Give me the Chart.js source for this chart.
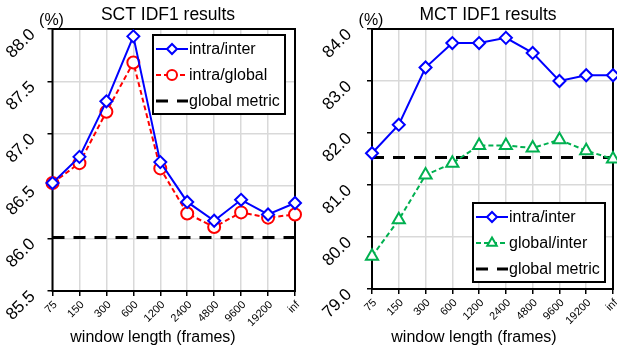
<!DOCTYPE html>
<html>
<head>
<meta charset="utf-8">
<script src="https://cdn.jsdelivr.net/npm/chart.js@4"></script>
<style>
  html, body { margin: 0; padding: 0; background: #fff; }
  #wrap { position: relative; width: 617px; height: 348px; overflow: hidden; }
  .panel { position: absolute; top: 0; height: 348px; }
</style>
</head>
<body>
<div id="wrap">
  <div class="panel" style="left:0;width:308px"><canvas id="sct" width="308" height="348"></canvas></div>
  <div class="panel" style="left:308px;width:309px"><canvas id="mct" width="309" height="348"></canvas></div>
</div>
<script>
// window lengths (x categories)
var windows = ['75', '150', '300', '600', '1200', '2400', '4800', '9600', '19200', 'inf'];

// SCT IDF1 (%)
var sctIntraInter  = [86.53, 86.78, 87.31, 87.93, 86.73, 86.35, 86.17, 86.37, 86.23, 86.34];
var sctIntraGlobal = [86.53, 86.72, 87.21, 87.68, 86.67, 86.24, 86.11, 86.25, 86.20, 86.23];
var sctGlobal      = [86.01, 86.01, 86.01, 86.01, 86.01, 86.01, 86.01, 86.01, 86.01, 86.01];
var sctTicks = [85.5, 86.0, 86.5, 87.0, 87.5, 88.0];

// MCT IDF1 (%)
var mctIntraInter  = [81.61, 82.16, 83.26, 83.73, 83.73, 83.83, 83.54, 83.00, 83.11, 83.11];
var mctGlobalInter = [79.63, 80.33, 81.19, 81.42, 81.76, 81.76, 81.71, 81.87, 81.66, 81.50];
var mctGlobal      = [81.53, 81.53, 81.53, 81.53, 81.53, 81.53, 81.53, 81.53, 81.53, 81.53];
var mctTicks = [79.0, 80.0, 81.0, 82.0, 83.0, 84.0];

var FONT = '"Liberation Sans", Arial, Helvetica, sans-serif';

// titles, rotated tick labels, frame and the boxed legend
var decor = {
  id: 'decor',
  beforeDatasetsDraw: function (chart) {
    var a = chart.chartArea, ctx = chart.ctx;
    ctx.save();
    ctx.strokeStyle = '#000';
    ctx.lineWidth = 2;
    ctx.strokeRect(a.left, a.top, a.right - a.left, a.bottom - a.top);
    ctx.restore();
  },
  afterDraw: function (chart) {
    var o = chart.options.plugins.decor, ctx = chart.ctx, a = chart.chartArea;
    var xs = chart.scales.x, ys = chart.scales.y;
    ctx.save();
    ctx.fillStyle = '#000';

    // title and unit
    ctx.textAlign = 'center';
    ctx.textBaseline = 'middle';
    ctx.font = '17.5px ' + FONT;
    ctx.fillText(o.title, o.titleX, 15);
    ctx.font = '16px ' + FONT;
    ctx.fillText('(%)', a.left - 1, 21);
    ctx.fillText('window length (frames)', o.xTitleX, 338);

    // y tick labels, slanted
    ctx.font = '17px ' + FONT;
    ctx.textAlign = 'right';
    ys.ticks.forEach(function (t) {
      var y = ys.getPixelForValue(t.value);
      ctx.save();
      ctx.translate(a.left + o.yDX, y + 3);
      ctx.rotate(-Math.PI / 4);
      ctx.fillText(t.value.toFixed(1), 0, 0);
      ctx.restore();
    });

    // x tick labels, slanted
    ctx.font = '11px ' + FONT;
    windows.forEach(function (w, i) {
      var x = xs.getPixelForValue(i);
      ctx.save();
      ctx.translate(x + 3, a.bottom + 12);
      ctx.rotate(-Math.PI / 4);
      ctx.fillText(w, 0, 0);
      ctx.restore();
    });

    // legend box
    var L = o.legend;
    ctx.fillStyle = '#fff';
    ctx.fillRect(L.x, L.y, L.w, L.h);
    ctx.strokeStyle = '#000';
    ctx.lineWidth = 2;
    ctx.strokeRect(L.x, L.y, L.w, L.h);
    ctx.font = '16px ' + FONT;
    ctx.textAlign = 'left';
    chart.data.datasets.forEach(function (ds, i) {
      var y = L.y + 14 + i * 26;
      var x1 = L.x + 3, x2 = L.x + 35;
      ctx.save();
      ctx.strokeStyle = ds.borderColor;
      ctx.lineWidth = ds.borderWidth;
      ctx.setLineDash(ds.borderDash || []);
      ctx.beginPath();
      ctx.moveTo(x1, y);
      ctx.lineTo(x2, y);
      ctx.stroke();
      ctx.restore();
      if (ds.pointRadius > 0) {
        ctx.save();
        ctx.fillStyle = '#fff';
        ctx.strokeStyle = ds.borderColor;
        ctx.lineWidth = 2;
        Chart.helpers.drawPoint(ctx, { pointStyle: ds.pointStyle, radius: ds.legendRadius, rotation: 0, borderWidth: 2 }, (x1 + x2) / 2, y);
        ctx.restore();
      }
      ctx.fillStyle = '#000';
      ctx.fillText(ds.label, x2 + 1, y + 1);
    });
    ctx.restore();
  }
};

function makeChart(id, datasets, ticks, area, decorOpts) {
  return new Chart(document.getElementById(id), {
    type: 'line',
    data: { labels: windows, datasets: datasets },
    options: {
      responsive: false,
      animation: false,
      layout: { autoPadding: false, padding: { top: area.top, right: area.right, left: 0, bottom: 0 } },
      plugins: { legend: { display: false }, tooltip: { enabled: false }, decor: decorOpts },
      scales: {
        x: {
          offset: false,
          ticks: { display: false },
          grid: { color: '#d9d9d9', lineWidth: 1.5, tickColor: '#000', tickLength: 5, tickWidth: 1.5 },
          border: { display: false },
          afterFit: function (s) { s.height = area.xHeight; s.paddingLeft = 0; s.paddingRight = 0; }
        },
        y: {
          min: ticks[0],
          max: ticks[ticks.length - 1],
          afterBuildTicks: function (s) { s.ticks = ticks.map(function (v) { return { value: v }; }); },
          ticks: { display: false },
          grid: { color: '#d9d9d9', lineWidth: 1.5, tickColor: '#000', tickLength: 5, tickWidth: 1.5 },
          border: { display: false },
          afterFit: function (s) { s.width = area.yWidth; s.paddingTop = 0; s.paddingBottom = 0; }
        }
      }
    },
    plugins: [decor]
  });
}

var intraInterStyle = {
  label: 'intra/inter', borderColor: '#0000ff', backgroundColor: '#fff', borderWidth: 2,
  pointStyle: 'rectRot', pointRadius: 6, pointBorderWidth: 2, legendRadius: 5, clip: false, tension: 0
};

makeChart('sct', [
  Object.assign({}, intraInterStyle, { data: sctIntraInter }),
  { label: 'intra/global', data: sctIntraGlobal, borderColor: '#ff0000', backgroundColor: '#fff', borderWidth: 2,
    borderDash: [5, 3], pointStyle: 'circle', pointRadius: 6, pointBorderWidth: 2, legendRadius: 5, clip: false },
  { label: 'global metric', data: sctGlobal, borderColor: '#000', borderWidth: 3, borderDash: [12, 9],
    pointRadius: 0, clip: false }
], sctTicks, { top: 29, right: 13, xHeight: 57, yWidth: 52.5 },
  { title: 'SCT IDF1 results', titleX: 168, xTitleX: 153, yDX: -20,
    legend: { x: 153, y: 35, w: 132, h: 79 } });

makeChart('mct', [
  Object.assign({}, intraInterStyle, { data: mctIntraInter }),
  { label: 'global/inter', data: mctGlobalInter, borderColor: '#00b050', backgroundColor: '#fff', borderWidth: 2,
    borderDash: [5, 3], pointStyle: 'triangle', pointRadius: 7, pointBorderWidth: 2, legendRadius: 5.5, clip: false },
  { label: 'global metric', data: mctGlobal, borderColor: '#000', borderWidth: 3, borderDash: [12, 9],
    pointRadius: 0, clip: false }
], mctTicks, { top: 29, right: 4, xHeight: 59, yWidth: 64 },
  { title: 'MCT IDF1 results', titleX: 180, xTitleX: 166, yDX: -23,
    legend: { x: 165, y: 203, w: 132, h: 79 } });
</script>
</body>
</html>
